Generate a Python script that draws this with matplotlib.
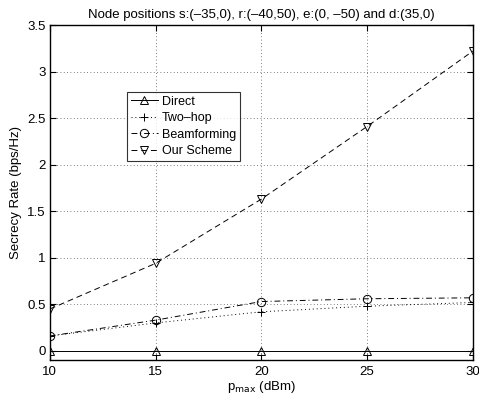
import matplotlib
matplotlib.use('Agg')
import matplotlib.pyplot as plt
import numpy as np

plt.rcParams['font.family'] = ['Liberation Sans', 'DejaVu Sans']

p_max = [10, 15, 20, 25, 30]
direct = [0.0, 0.0, 0.0, 0.0, 0.0]
two_hop = [0.16, 0.30, 0.42, 0.48, 0.52]
beamforming = [0.16, 0.33, 0.53, 0.56, 0.57]
our_scheme = [0.45, 0.94, 1.63, 2.41, 3.22]

fig = plt.figure(figsize=(4.79, 3.98), dpi=100)
ax = fig.add_axes([0.104, 0.095, 0.883, 0.842])

mk = dict(color='k', markersize=6, markerfacecolor='none', markeredgewidth=0.7, linewidth=0.7)
ax.plot(p_max, direct, '-', marker='^', label='Direct', **mk)
ax.plot(p_max, two_hop, linestyle=(0, (1, 3)), marker='+', label='Two\u2013hop', **mk)
ax.plot(p_max, beamforming, linestyle=(0, (6, 3, 1, 3)), marker='o', label='Beamforming', **mk)
ax.plot(p_max, our_scheme, linestyle=(0, (6, 4)), marker='v', label='Our Scheme', **mk)

ax.set_xlim(10, 30)
ax.set_ylim(-0.1, 3.5)
ax.set_xticks([10, 15, 20, 25, 30])
ax.set_yticks([0, 0.5, 1, 1.5, 2, 2.5, 3, 3.5])
ax.set_yticklabels(['0', '0.5', '1', '1.5', '2', '2.5', '3', '3.5'])
ax.tick_params(direction='in', labelsize=9.5, top=True, right=True, length=4)
ax.tick_params(axis='x', pad=4)
ax.tick_params(axis='y', pad=3)
ax.grid(True, linestyle=(0, (1, 3)), color='#555555', linewidth=0.6)
for s in ax.spines.values():
    s.set_linewidth(1.0)

ax.set_xlabel('p$_{\\mathrm{max}}$ (dBm)', fontsize=9.5, labelpad=1)
ax.set_ylabel('Secrecy Rate (bps/Hz)', fontsize=9.5, labelpad=4)
ax.set_title('Node positions s:(\u201335,0), r:(\u201340,50), e:(0, \u201350) and d:(35,0)', fontsize=9.5, pad=5)

leg = ax.legend(loc='upper left', bbox_to_anchor=(0.182, 0.80), fontsize=9, frameon=True,
                fancybox=False, edgecolor='k', handlelength=2.2, borderpad=0.3,
                labelspacing=0.35, handletextpad=0.3, borderaxespad=0)
leg.get_frame().set_linewidth(0.8)

fig.savefig('out.png', dpi=100)
